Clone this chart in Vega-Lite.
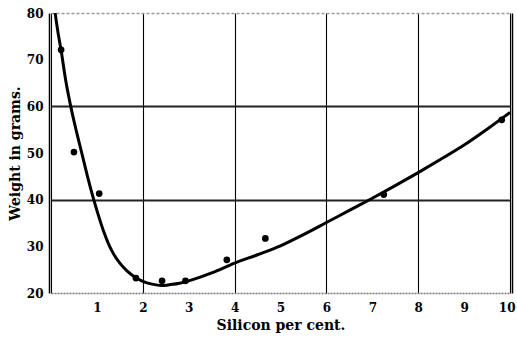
{
  "$schema": "https://vega.github.io/schema/vega-lite/v6.json",
  "width": 459,
  "height": 280,
  "autosize": "none",
  "padding": {"left": 51, "top": 13, "right": 7, "bottom": 45},
  "background": "white",
  "config": {
    "view": {"stroke": null},
    "font": "DejaVu Serif"
  },
  "datasets": {
    "curve": [
      {"x": 0.09, "y": 80}, {"x": 0.15, "y": 76}, {"x": 0.22, "y": 72}, {"x": 0.32, "y": 65.6},
      {"x": 0.43, "y": 60}, {"x": 0.55, "y": 54.8}, {"x": 0.67, "y": 50}, {"x": 0.8, "y": 44.8},
      {"x": 0.92, "y": 40.4}, {"x": 1.05, "y": 36.1}, {"x": 1.15, "y": 33.1}, {"x": 1.25, "y": 30.6},
      {"x": 1.35, "y": 28.6}, {"x": 1.5, "y": 26.4}, {"x": 1.65, "y": 24.8}, {"x": 1.8, "y": 23.6},
      {"x": 2.0, "y": 22.5}, {"x": 2.2, "y": 21.9}, {"x": 2.41, "y": 21.6}, {"x": 2.6, "y": 21.8},
      {"x": 2.8, "y": 22.1}, {"x": 3.0, "y": 22.6}, {"x": 3.5, "y": 24.3}, {"x": 4.0, "y": 26.4},
      {"x": 4.5, "y": 28.2}, {"x": 5.0, "y": 30.1}, {"x": 5.5, "y": 32.5}, {"x": 6.0, "y": 35.1},
      {"x": 6.5, "y": 37.7}, {"x": 7.0, "y": 40.3}, {"x": 7.5, "y": 43.0}, {"x": 8.0, "y": 45.8},
      {"x": 8.5, "y": 48.7}, {"x": 9.0, "y": 51.7}, {"x": 9.5, "y": 55.1}, {"x": 10.0, "y": 58.7}
    ],
    "obs": [
      {"x": 0.22, "y": 72.1}, {"x": 0.5, "y": 50.2}, {"x": 1.05, "y": 41.3}, {"x": 1.85, "y": 23.2},
      {"x": 2.42, "y": 22.6}, {"x": 2.93, "y": 22.6}, {"x": 3.83, "y": 27.1}, {"x": 4.67, "y": 31.7},
      {"x": 7.25, "y": 41.1}, {"x": 9.82, "y": 57.1}
    ]
  },
  "resolve": {"scale": {"y": "independent"}, "axis": {"y": "independent"}},
  "layer": [
    {
      "data": {"name": "curve"},
      "mark": {"type": "line", "interpolate": "monotone", "color": "black", "strokeWidth": 3, "clip": true},
      "encoding": {
        "x": {
          "field": "x", "type": "quantitative",
          "scale": {"domain": [0, 10], "nice": false, "zero": false},
          "axis": {
            "values": [0, 1, 2, 3, 4, 5, 6, 7, 8, 9, 10],
            "labelExpr": "datum.value == 0 ? '' : datum.label",
            "grid": true,
            "gridColor": "black",
            "gridWidth": 1.1,
            "gridOpacity": {"condition": {"test": "datum.value == 0 || datum.value == 2 || datum.value == 4 || datum.value == 6 || datum.value == 8 || datum.value == 10", "value": 1}, "value": 0},
            "domain": true,
            "domainColor": "#777",
            "domainWidth": 1.5,
            "domainDash": [2, 1],
            "ticks": false,
            "labelPadding": 9,
            "labelFont": "DejaVu Serif",
            "labelFontWeight": "bold",
            "labelFontSize": 12,
            "labelColor": "black",
            "labelFlush": true,
            "labelFlushOffset": 5,
            "title": "Silicon per cent.",
            "titleFont": "DejaVu Serif",
            "titleFontWeight": "bold",
            "titleFontSize": 14,
            "titleColor": "black",
            "titlePadding": 5
          }
        },
        "y": {
          "field": "y", "type": "quantitative",
          "scale": {"domain": [20, 80], "nice": false, "zero": false},
          "axis": {
            "orient": "left",
            "values": [20, 30, 40, 50, 60, 70, 80],
            "grid": true,
            "gridColor": {"condition": {"test": "datum.value == 40 || datum.value == 60", "value": "#222"}, "value": "#999"},
            "gridWidth": {"condition": {"test": "datum.value == 40 || datum.value == 60", "value": 2}, "value": 1.5},
            "gridDash": {"condition": {"test": "datum.value == 40 || datum.value == 60", "value": []}, "value": [3, 2]},
            "gridOpacity": {"condition": {"test": "datum.value == 40 || datum.value == 60 || datum.value == 80", "value": 1}, "value": 0},
            "domain": true,
            "domainColor": "black",
            "domainWidth": 1.5,
            "offset": 2,
            "ticks": false,
            "labelPadding": 6,
            "labelFont": "DejaVu Serif",
            "labelFontWeight": "bold",
            "labelFontSize": 12,
            "labelColor": "black",
            "labelFlush": false,
            "title": "Weight in grams.",
            "titleFont": "DejaVu Serif",
            "titleFontWeight": "bold",
            "titleFontSize": 14,
            "titleColor": "black",
            "titlePadding": 4
          }
        }
      }
    },
    {
      "data": {"name": "obs"},
      "mark": {"type": "point", "filled": true, "color": "black", "size": 45, "opacity": 1},
      "encoding": {
        "x": {"field": "x", "type": "quantitative"},
        "y": {
          "field": "y", "type": "quantitative",
          "scale": {"domain": [20, 80], "nice": false, "zero": false},
          "axis": {
            "orient": "right",
            "offset": 2,
            "domain": true,
            "domainColor": "black",
            "domainWidth": 1.5,
            "ticks": false,
            "labels": false,
            "grid": false,
            "title": null
          }
        }
      }
    }
  ]
}
